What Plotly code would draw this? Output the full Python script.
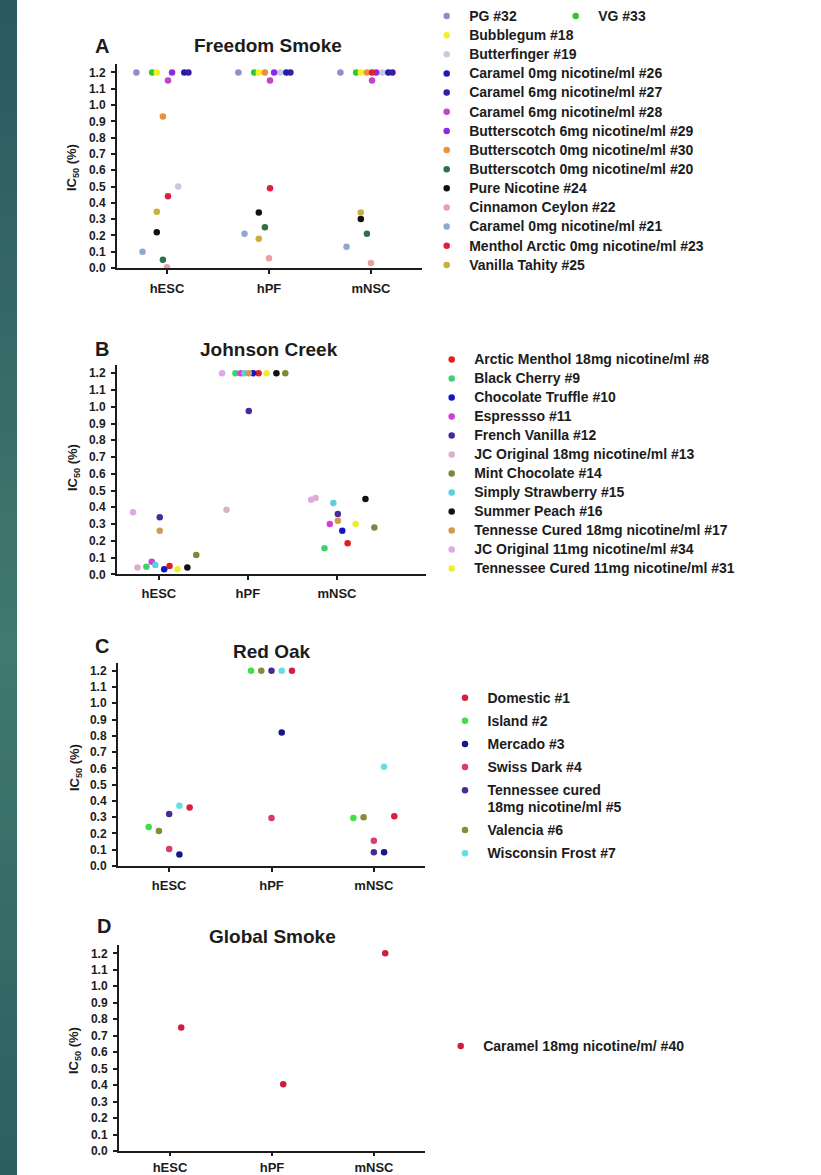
import plotly.graph_objects as go

# ---------------------------------------------------------------- data
cell_types = ["hESC", "hPF", "mNSC"]

# A - Freedom Smoke
fs_flavors = [
    "PG #32", "VG #33", "Bubblegum #18", "Butterfinger #19",
    "Caramel 0mg nicotine/ml #26", "Caramel 6mg nicotine/ml #27",
    "Caramel 6mg nicotine/ml #28", "Butterscotch 6mg nicotine/ml #29",
    "Butterscotch 0mg nicotine/ml #30", "Butterscotch 0mg nicotine/ml #20",
    "Pure Nicotine #24", "Cinnamon Ceylon #22", "Caramel 0mg nicotine/ml #21",
    "Menthol Arctic 0mg nicotine/ml #23", "Vanilla Tahity #25",
]
fs_hesc = [1.2, 1.2, 1.2, 0.50, 1.2, 1.2, 1.15, 1.2, 0.93, 0.05, 0.22, 0.005, 0.10, 0.44, 0.345]
fs_hpf = [1.2, 1.2, 1.2, 1.2, 1.2, 1.2, 1.15, 1.2, 1.2, 0.25, 0.34, 0.06, 0.21, 0.49, 0.18]
fs_mnsc = [1.2, 1.2, 1.2, 1.2, 1.2, 1.2, 1.15, 1.2, 1.2, 0.21, 0.30, 0.03, 0.13, 1.2, 0.34]

# B - Johnson Creek
jc_flavors = [
    "Arctic Menthol 18mg nicotine/ml #8", "Black Cherry #9", "Chocolate Truffle #10",
    "Espressso #11", "French Vanilla #12", "JC Original 18mg nicotine/ml #13",
    "Mint Chocolate #14", "Simply Strawberry #15", "Summer Peach #16",
    "Tennesse Cured 18mg nicotine/ml #17", "JC Original 11mg nicotine/ml #34",
    "Tennessee Cured 11mg nicotine/ml #31",
]
jc_hesc = [0.05, 0.045, 0.03, 0.075, 0.34, 0.04, 0.115, 0.055, 0.04, 0.26, 0.37, 0.03]
jc_hpf = [1.2, 1.2, 1.2, 1.2, 0.975, 0.385, 1.2, 1.2, 1.2, 1.2, 1.2, 1.2]
jc_mnsc = [0.185, 0.155, 0.26, 0.30, 0.36, 0.455, 0.28, 0.425, 0.45, 0.32, 0.445, 0.30]

# C - Red Oak
ro_flavors = [
    "Domestic #1", "Island #2", "Mercado #3", "Swiss Dark #4",
    ["Tennessee cured", "18mg nicotine/ml #5"], "Valencia #6", "Wisconsin Frost #7",
]
ro_hesc = [0.36, 0.24, 0.07, 0.105, 0.32, 0.215, 0.37]
ro_hpf = [1.2, 1.2, 0.82, 0.295, 1.2, 1.2, 1.2]
ro_mnsc = [0.305, 0.295, 0.085, 0.155, 0.085, 0.30, 0.61]

# D - Global Smoke
gs_flavors = ["Caramel 18mg nicotine/m/ #40"]
gs_hesc = [0.75]
gs_hpf = [0.405]
gs_mnsc = [1.2]

# ---------------------------------------------------------------- styling
fs_colors = ["#8f8fc8", "#33c433", "#f2f222", "#c9c9de", "#1c1cb0", "#3b1c9c",
             "#c443c4", "#8a2be2", "#ea8f3a", "#2f7048", "#111111", "#eaa0a0",
             "#8fa8d0", "#e01f3d", "#c8b040"]
jc_colors = ["#e02020", "#40d070", "#1515c8", "#d040d8", "#4a2a9a", "#dcb0cc",
             "#7a8a3a", "#5ccfe0", "#111111", "#d09a50", "#e0a8e8", "#eeee30"]
ro_colors = ["#d8203c", "#40e040", "#16168a", "#d83c6a", "#4a2a90", "#8a8a3a", "#60e0e0"]
gs_colors = ["#cc1f3f"]

# horizontal scatter of each flavour around its cell-type column
fs_jitter = [-0.30, -0.145, -0.10, 0.11, 0.17, 0.21, 0.01, 0.05, -0.04, -0.04,
             -0.10, 0.0, -0.24, 0.01, -0.10]
jc_jitter = [0.12, -0.14, 0.06, -0.08, 0.01, -0.24, 0.42, -0.04, 0.32, 0.01, -0.29, 0.21]
ro_jitter = [0.2, -0.2, 0.1, 0.0, 0.0, -0.1, 0.1]
gs_jitter = [0.11]

W, H = 821, 1175
FONT = "Liberation Sans, Arial, sans-serif"
INK = "#1c1c1c"
LEG_TEXT_PX = 14


def fx(p):
    return p / W


def fy(p):
    return 1 - p / H


def legend_label(name):
    lines = name if isinstance(name, list) else [name]
    return "<br>".join(
        f'<span style="font-size:{LEG_TEXT_PX}px">{ln}</span>' for ln in lines)


fig = go.Figure()

# panel geometry in pixels: x-axis left/right, y of value 0, y of top of axis
panels = [
    dict(ax="", letter="A", title="Freedom Smoke", left=117, right=422, zero=268, top=64.3,
         xr=[0.51, 3.5], letter_xy=(102, 46), title_xy=(268, 46), ytitle_xy=(72, 168),
         standoff=3, xticklen=4),
    dict(ax="2", letter="B", title="Johnson Creek", left=117, right=426, zero=574.3, top=364.9,
         xr=[0.53, 4.0], letter_xy=(102, 349), title_xy=(269, 349), ytitle_xy=(73, 468),
         standoff=2, xticklen=4),
    dict(ax="3", letter="C", title="Red Oak", left=118, right=425, zero=866, top=662.6,
         xr=[0.5, 3.5], letter_xy=(102, 646), title_xy=(272, 651), ytitle_xy=(75, 768),
         standoff=2, xticklen=4),
    dict(ax="4", letter="D", title="Global Smoke", left=119, right=425, zero=1151, top=945.1,
         xr=[0.5, 3.5], letter_xy=(104, 926), title_xy=(272, 936), ytitle_xy=(74, 1051),
         standoff=0, xticklen=3),
]

series_sets = [
    (fs_flavors, (fs_hesc, fs_hpf, fs_mnsc), fs_colors, fs_jitter, "legend"),
    (jc_flavors, (jc_hesc, jc_hpf, jc_mnsc), jc_colors, jc_jitter, "legend2"),
    (ro_flavors, (ro_hesc, ro_hpf, ro_mnsc), ro_colors, ro_jitter, "legend3"),
    (gs_flavors, (gs_hesc, gs_hpf, gs_mnsc), gs_colors, gs_jitter, "legend4"),
]

for p, (names, cols, colors, jitter, leg) in zip(panels, series_sets):
    for i, name in enumerate(names):
        this_leg = leg
        if name == "VG #33":
            this_leg = "legend5"
        fig.add_trace(go.Scatter(
            x=[k + 1 + jitter[i] for k in range(len(cell_types))],
            y=[c[i] for c in cols],
            mode="markers",
            name=legend_label(name),
            marker=dict(size=6.5, color=colors[i]),
            xaxis="x" + p["ax"], yaxis="y" + p["ax"],
            legend=this_leg, legendgroup=f"{leg}-{i}",
            cliponaxis=False,
            hovertemplate="%{y:.2f}<extra></extra>",
        ))

layout = dict(
    width=W, height=H,
    margin=dict(l=0, r=0, t=0, b=0, autoexpand=False),
    paper_bgcolor="white", plot_bgcolor="white",
    font=dict(family=FONT, color=INK),
    showlegend=True,
)

annotations = []
for p in panels:
    xa = "xaxis" + p["ax"]
    ya = "yaxis" + p["ax"]
    layout[xa] = dict(
        domain=[fx(p["left"]), fx(p["right"])], range=p["xr"], anchor="y" + p["ax"],
        showgrid=False, zeroline=False, showline=True, linewidth=2, linecolor=INK,
        ticks="outside", ticklen=p["xticklen"], tickwidth=1.5, tickcolor=INK,
        tickvals=[1, 2, 3], ticktext=cell_types, ticklabelstandoff=p["standoff"],
        tickfont=dict(family=FONT, size=13, color=INK, weight="bold"), fixedrange=True,
    )
    layout[ya] = dict(
        domain=[fy(p["zero"]), fy(p["top"])], range=[0, 1.25], anchor="x" + p["ax"],
        showgrid=False, zeroline=False, showline=True, linewidth=2, linecolor=INK,
        ticks="outside", ticklen=4, tickwidth=1.5, tickcolor=INK,
        tick0=0, dtick=0.1, tickformat=".1f", ticklabelstandoff=3,
        tickfont=dict(family=FONT, size=12, color=INK, weight="bold"), fixedrange=True,
    )
    annotations.append(dict(
        text=p["letter"], x=fx(p["letter_xy"][0]), y=fy(p["letter_xy"][1]),
        xref="paper", yref="paper", xanchor="center", yanchor="middle", showarrow=False,
        font=dict(family=FONT, size=20, color=INK, weight="bold")))
    annotations.append(dict(
        text=p["title"], x=fx(p["title_xy"][0]), y=fy(p["title_xy"][1]),
        xref="paper", yref="paper", xanchor="center", yanchor="middle", showarrow=False,
        font=dict(family=FONT, size=19, color=INK, weight="bold")))
    annotations.append(dict(
        text="IC<sub>50</sub> (%)", x=fx(p["ytitle_xy"][0]), y=fy(p["ytitle_xy"][1]),
        xref="paper", yref="paper", xanchor="center", yanchor="middle", showarrow=False,
        textangle=-90, font=dict(family=FONT, size=13, color=INK, weight="bold")))
layout["annotations"] = annotations

ITEM_W = 35
MARK_OFF = (ITEM_W + 10) / 2


def legend_box(marker_x, first_row_y, size, **extra):
    item_h = 1.3 * size + 3
    return dict(
        x=fx(marker_x - MARK_OFF), y=fy(first_row_y - 5 - item_h / 2),
        xref="paper", yref="paper", xanchor="left", yanchor="top",
        bgcolor="rgba(0,0,0,0)", borderwidth=0, itemwidth=ITEM_W,
        itemsizing="trace", itemclick=False, itemdoubleclick=False,
        font=dict(family=FONT, size=size, color=INK, weight="bold"), **extra)


layout["legend"] = legend_box(446.7, 16, 12.42, traceorder="normal", tracegroupgap=0)
layout["legend5"] = legend_box(575.7, 16, 12.42)
layout["legend2"] = legend_box(451.7, 359.3, 12.19, traceorder="normal", tracegroupgap=0)
layout["legend3"] = legend_box(465, 697.7, 12.8, traceorder="grouped", tracegroupgap=3.5,
                               valign="top")
layout["legend4"] = legend_box(460.7, 1046, 12.4)

# dark teal band along the left edge
stops = [(0.0, (42, 88, 94)), (0.55, (64, 122, 112)), (1.0, (44, 94, 96))]


def band_color(t):
    for (t0, c0), (t1, c1) in zip(stops[:-1], stops[1:]):
        if t0 <= t <= t1:
            f = (t - t0) / (t1 - t0)
            return "rgb({},{},{})".format(*[round(a + (b - a) * f) for a, b in zip(c0, c1)])
    return "rgb({},{},{})".format(*stops[-1][1])


n_slices = 60
step = 1 / n_slices
shapes = []
for s in range(n_slices):
    t = (s + 0.5) / n_slices
    # slices overlap their neighbour a little so no seams show
    shapes.append(dict(
        type="rect", xref="paper", yref="paper", x0=0, x1=fx(17),
        y0=max(0, 1 - (s + 1) * step - 2 / H), y1=1 - s * step,
        fillcolor=band_color(t), line=dict(width=0), layer="below"))
layout["shapes"] = shapes

fig.update_layout(**layout)
fig.write_html("out.html", include_plotlyjs=True, config={"displayModeBar": False})
